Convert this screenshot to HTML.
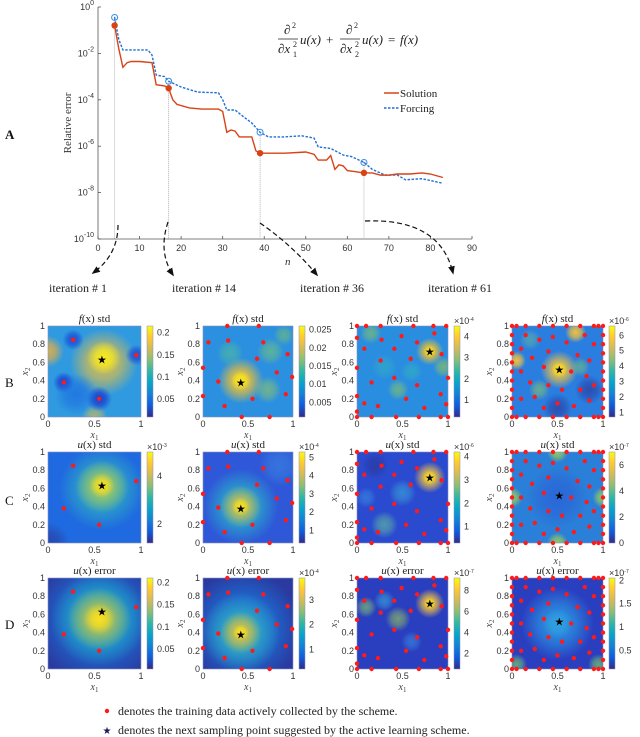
<!DOCTYPE html>
<html><head><meta charset="utf-8"><style>
html,body{margin:0;padding:0;background:#fff;}
svg{display:block;font-family:"Liberation Serif",serif;}
.tk{font-family:"Liberation Sans",sans-serif;font-size:9px;fill:#333;}
</style></head><body>
<svg id="fig" width="640" height="737" viewBox="0 0 640 737" xmlns="http://www.w3.org/2000/svg">
<defs id="defs"></defs>
</svg>
<script>
// ---------- top chart data ----------
const solN=[4,5,6,7,8,10,13,14,16,17,18,19,22,25,29,30,31,32,33,34,37,38,39,42,45,48,50,52,53,55,56,57,58,59,60,62,64,66,68,70,72,75,78,80,83];
const solLog=[-0.8,-1.8,-2.6,-2.4,-2.35,-2.35,-2.4,-3.35,-3.4,-3.5,-4.0,-4.2,-4.35,-4.4,-4.4,-4.5,-5.4,-5.3,-5.35,-5.6,-5.6,-6.2,-6.3,-6.3,-6.3,-6.27,-6.25,-6.35,-6.6,-6.6,-6.4,-7.0,-6.8,-6.85,-7.05,-7.1,-7.15,-7.15,-7.25,-7.25,-7.2,-7.2,-7.15,-7.2,-7.35];
const forN=[4,5,6,8,12,13,14,16,17,20,24,29,30,31,33,35,37,39,41,45,49,52,53,56,59,61,64,66,69,72,74,78,83];
const forLog=[-0.45,-1.4,-1.85,-1.85,-1.85,-2.07,-2.93,-3.0,-3.2,-3.45,-3.67,-3.7,-4.0,-4.44,-4.44,-4.73,-5.0,-5.4,-5.6,-5.6,-5.55,-5.65,-6.03,-6.1,-6.38,-6.45,-6.7,-7.0,-7.24,-7.24,-7.45,-7.4,-7.6];
const markN=[4,17,39,64];
const xTicks=[0,10,20,30,40,50,60,70,80,90];
const yTicks=[0,-2,-4,-6,-8,-10];

const NS="http://www.w3.org/2000/svg";
const svg=document.getElementById('fig');
const defs=document.getElementById('defs');
function el(tag,attrs,parent,text){const e=document.createElementNS(NS,tag);for(const k in attrs)e.setAttribute(k,attrs[k]);if(text!==undefined)e.textContent=text;(parent||svg).appendChild(e);return e;}

const X0=98,X1=472,Y0=7,Y1=239;
const xs=n=>X0+n*(X1-X0)/90;
const ys=l=>Y0+(-l)*(Y1-Y0)/10;

const chartG=el('g',{});


let a=el('line',{x1:X0,y1:Y0,x2:X0,y2:Y1,stroke:'#555','stroke-width':0.8},chartG);

a=el('line',{x1:X0,y1:Y1,x2:X1,y2:Y1,stroke:'#555','stroke-width':0.8},chartG);

xTicks.forEach(t=>{
  el('line',{x1:xs(t),y1:Y1,x2:xs(t),y2:Y1-3,stroke:'#555','stroke-width':0.8},chartG);
  const tx=el('text',{x:xs(t),y:Y1+12,'text-anchor':'middle',class:'tk','font-size':10},chartG,String(t));
  
});
yTicks.forEach(t=>{
  el('line',{x1:X0,y1:ys(t),x2:X0+3,y2:ys(t),stroke:'#555','stroke-width':0.8},chartG);
  const tx=el('text',{x:X0-4,y:ys(t)+3,'text-anchor':'end',class:'tk','font-size':10},chartG,'10');
  el('tspan',{dy:-5,'font-size':7},tx,String(t));
  
});
a=el('text',{x:0,y:0,transform:'translate(71,123) rotate(-90)','text-anchor':'middle','font-size':11,fill:'#333'},chartG,'Relative error');

a=el('text',{x:285,y:265,'font-size':11,'font-style':'italic',fill:'#333'},chartG,'n');

markN.forEach(n=>{
  const i=forN.indexOf(n);
  const g=el('line',{x1:xs(n),y1:ys(forLog[i]),x2:xs(n),y2:Y1,stroke:'#999','stroke-width':0.7,'stroke-dasharray':'1,1'},chartG);
  
});
const solPath=solN.map((n,i)=>(i?'L':'M')+xs(n).toFixed(1)+','+ys(solLog[i]).toFixed(1)).join(' ');
const forPath=forN.map((n,i)=>(i?'L':'M')+xs(n).toFixed(1)+','+ys(forLog[i]).toFixed(1)).join(' ');
a=el('path',{d:forPath,fill:'none',stroke:'#1f6fd6','stroke-width':1.4,'stroke-dasharray':'2.5,1.5'},chartG);

a=el('path',{d:solPath,fill:'none',stroke:'#d84315','stroke-width':1.4},chartG);

markN.forEach(n=>{
  const i=forN.indexOf(n),j=solN.indexOf(n);
  const c=el('circle',{cx:xs(n),cy:ys(forLog[i]),r:3,fill:'none',stroke:'#3a8ae0','stroke-width':1},chartG);
  
  el('circle',{cx:xs(n),cy:ys(forLog[i]),r:0.8,fill:'#3a8ae0'},chartG);
  const d=el('circle',{cx:xs(n),cy:ys(solLog[j]),r:3.2,fill:'#d84315'},chartG);
  
});
const lg=el('g',{},chartG);
el('line',{x1:384,y1:93,x2:399,y2:93,stroke:'#d84315','stroke-width':1.5},lg);
a=el('text',{x:400,y:97,'font-size':11,fill:'#222'},lg,'Solution');
el('line',{x1:384,y1:108,x2:399,y2:108,stroke:'#1f6fd6','stroke-width':1.5,'stroke-dasharray':'2.5,1.5'},lg);
a=el('text',{x:400,y:112,'font-size':11,fill:'#222'},lg,'Forcing');
const eq=el('g',{'font-size':13,fill:'#222'},chartG);
el('text',{x:284,y:34},eq,'∂');el('text',{x:292,y:28,'font-size':8},eq,'2');
el('line',{x1:278,y1:39,x2:298,y2:39,stroke:'#222','stroke-width':0.8},eq);
el('text',{x:278,y:53,'font-style':'italic'},eq,'∂x');el('text',{x:293,y:47,'font-size':8},eq,'2');el('text',{x:293,y:57,'font-size':8},eq,'1');
el('text',{x:300,y:44,'font-style':'italic'},eq,'u(x)');
el('text',{x:326,y:44},eq,'+');
el('text',{x:346,y:34},eq,'∂');el('text',{x:354,y:28,'font-size':8},eq,'2');
el('line',{x1:340,y1:39,x2:360,y2:39,stroke:'#222','stroke-width':0.8},eq);
el('text',{x:340,y:53,'font-style':'italic'},eq,'∂x');el('text',{x:355,y:47,'font-size':8},eq,'2');el('text',{x:355,y:57,'font-size':8},eq,'2');
el('text',{x:362,y:44,'font-style':'italic'},eq,'u(x)');
el('text',{x:388,y:44},eq,'=');
el('text',{x:400,y:44,'font-style':'italic'},eq,'f(x)');
const mk=el('marker',{id:'ah',viewBox:'0 0 10 10',refX:8,refY:5,markerWidth:7,markerHeight:7,orient:'auto'},defs);
el('path',{d:'M0,1 L10,5 L0,9 z',fill:'#111'},mk);
['M118,225 Q118,255 93,273','M168,222 Q158,252 173,275','M260,223 Q292,245 317,275','M365,221 Q440,218 453,273'].forEach(d=>{
  const p=el('path',{d:d,fill:'none',stroke:'#111','stroke-width':1.2,'stroke-dasharray':'5,3','marker-end':'url(#ah)'});
  
});
[['iteration # 1',78],['iteration # 14',204],['iteration # 36',332],['iteration # 61',460]].forEach(t=>{
  const e=el('text',{x:t[1],y:292,'text-anchor':'middle','font-size':12,fill:'#222'},svg,t[0]);
  
});
[['A',5,139],['B',5,387],['C',5,505],['D',5,629]].forEach(t=>{
  const e=el('text',{x:t[1],y:t[2],'font-size':13,'font-weight':t[0]=='A'?'bold':'normal',fill:'#111'},svg,t[0]);
  
});

// ---------- heatmaps ----------
const col1Dots=[[.27,.85],[.95,.68],[.17,.38],[.55,.2]];
const col2Dots=[[.27,1],[.62,1],[.06,.82],[.28,.84],[.67,.82],[.6,.64],[.94,.69],[.82,.49],[.99,.44],[0,.54],[.17,.39],[0,.23],[.92,.25],[.55,.2],[.24,.12],[.43,0],[.74,0]];
const col3Dots=[[0,1],[.1,1],[.26,1],[.62,1],[.84,1],[.98,1],[0,.87],[.49,.89],[.27,.85],[.66,.82],[.85,.92],[.08,.75],[.41,.75],[.93,.69],[.26,.62],[.59,.64],[0,.54],[1,.43],[.16,.38],[.41,.43],[.66,.35],[.92,.25],[0,.23],[.08,.15],[.23,.12],[.54,.2],[.74,.1],[.98,.14],[0,.06],[0,0],[.16,0],[.43,0],[.68,0],[.92,0],[1,0]];
const col4Dots=[[0,1],[.05,1],[.15,1],[.3,1],[.45,1],[.6,1],[.75,1],[.9,1],[.95,1],[1,1],[0,0],[.05,0],[.15,0],[.3,0],[.45,0],[.6,0],[.75,0],[.9,0],[.95,0],[1,0],
[0,.1],[0,.2],[0,.3],[0,.4],[0,.5],[0,.6],[0,.7],[0,.8],[0,.9],[1,.1],[1,.2],[1,.3],[1,.4],[1,.5],[1,.6],[1,.7],[1,.8],[1,.9],
[.15,.9],[.3,.85],[.45,.88],[.6,.82],[.8,.9],[.9,.8],[.1,.75],[.22,.65],[.4,.72],[.72,.68],[.85,.62],[.1,.5],[.35,.55],[.65,.5],[.82,.45],[.9,.35],[.2,.38],[.4,.35],[.55,.3],[.75,.3],[.1,.2],[.25,.22],[.5,.15],[.68,.12],[.85,.18],[.35,.1]];
const stars=[[.58,.63],[.42,.38],[.8,.72],[.52,.52]];
const colX=[48,203,357,512],colW=[93,90,91,91];
const rowY=[326,452,578],rowH=91;
const titles=[['f','(x) std'],['u','(x) std'],['u','(x) error']];
const cbMin=[[.01,.001,.2,.7],[1.2,.3,.3,0],[.005,.2,.5,.1]];
const cbMax=[[.215,.026,4.5,6.6],[5,5.3,4.2,7],[.21,3.9,9.2,2.05]];
const cbTicks=[[[.05,.1,.15,.2],[.005,.01,.015,.02,.025],[1,2,3,4],[1,2,3,4,5,6]],[[2,4],[1,2,3,4,5],[1,2,3,4],[0,2,4,6]],[[.05,.1,.15,.2],[1,2,3],[2,4,6,8],[.5,1,1.5,2]]];
const cbExp=[[null,null,'-4','-6'],['-3','-4','-6','-7'],[null,'-4','-7','-7']];
const dotsByCol=[col1Dots,col2Dots,col3Dots,col4Dots];
const fields=[
 [['#2f9ae0',[[.6,.6,.32,'#e8c040',.9],[.6,.65,.16,'#f8ec20',1],[.0,.72,.15,'#e8b040',.9],[.5,.0,.12,'#d8c050',.7],[.17,.38,.1,'#1a3fd0',1],[.55,.2,.12,'#1a3fd0',1],[.27,.85,.1,'#1a50d8',1],[.95,.68,.1,'#1a50d8',1],[.3,.25,.2,'#1e70e0',.8]]],
  ['#2b90e0',[[.42,.4,.22,'#f0c030',1],[.42,.4,.1,'#fae820',1],[.72,.3,.13,'#8ac070',.7],[.75,.72,.13,'#70c080',.7],[.3,.7,.13,'#50b8a0',.7],[.9,.9,.1,'#7ac070',.6]]],
  ['#2a8ee0',[[.8,.72,.13,'#f0c030',1],[.8,.72,.06,'#fae020',1],[.15,.92,.1,'#80c070',.7],[.45,.3,.1,'#80c070',.7],[.95,.55,.1,'#90c060',.7],[.6,.5,.1,'#30b0c0',.7],[.3,.55,.12,'#30b0c0',.6]]],
  ['#2a7ee0',[[.52,.52,.18,'#f0c040',1],[.52,.52,.08,'#fae020',1],[.05,.62,.09,'#f0c040',1],[.7,.93,.1,'#f0c040',1],[.3,.3,.1,'#80c070',.7],[.75,.55,.09,'#80c070',.6],[.2,.85,.1,'#60b8a0',.6],[.85,.3,.14,'#2a3aa0',.7],[.5,.1,.14,'#2a3aa0',.7]]]],
 [['#1f6ae0',[[.58,.6,.4,'#30b0c0',1],[.58,.62,.25,'#a0c860',1],[.58,.63,.12,'#fae020',1],[.0,.0,.2,'#2a3a9a',.7]]],
  ['#2e58d8',[[.42,.4,.36,'#2ab0c8',1],[.42,.4,.2,'#c8c050',1],[.42,.4,.09,'#fae020',1],[.85,.85,.2,'#3a80e0',.7]]],
  ['#2a4ad0',[[.8,.72,.15,'#f0c040',1],[.8,.72,.07,'#fae020',1],[.3,.2,.13,'#60b8a0',.7],[.5,.55,.13,'#3aa0d8',.7],[.1,.5,.1,'#3a90e0',.6],[.2,.85,.13,'#2a3aa0',.8]]],
  ['#2a80d8',[[.0,.5,.1,'#90c860',1],[1,.5,.1,'#90c860',1],[.5,0,.1,'#90c860',1],[.5,1,.1,'#90c860',1],[.5,.5,.3,'#2a60d8',.8]]]],
 [['#2a3aa0',[[.55,.55,.62,'#1a7ae0',1],[.55,.55,.45,'#20b0c0',1],[.55,.55,.3,'#b8c050',1],[.55,.55,.15,'#fae020',1]]],
  ['#2a3aa0',[[.45,.45,.55,'#1a7ae0',1],[.42,.4,.38,'#30b0c0',1],[.42,.4,.2,'#d8c040',1],[.42,.4,.08,'#fae020',1]]],
  ['#2a3ec0',[[.8,.72,.14,'#f0c040',1],[.8,.72,.06,'#fae020',1],[.1,.68,.1,'#80c070',.7],[.45,.55,.12,'#90c060',.7],[.3,.75,.1,'#3aa0d8',.7],[.6,.3,.1,'#3a90e0',.6]]],
  ['#2a3ec0',[[.5,.5,.35,'#2a90e0',1],[.5,.5,.15,'#30a0e0',1],[.05,.05,.1,'#70c070',.8],[.95,.05,.1,'#70c070',.8]]]]
];
let gid=0;
function blob(g,px,py,pw,ph,b){
  const id='g'+(gid++);
  const rg=el('radialGradient',{id:id},defs);
  el('stop',{offset:'0','stop-color':b[3],'stop-opacity':b[4]},rg);
  el('stop',{offset:'0.5','stop-color':b[3],'stop-opacity':b[4]*0.7},rg);
  el('stop',{offset:'1','stop-color':b[3],'stop-opacity':0},rg);
  el('ellipse',{cx:px+b[0]*pw,cy:py+(1-b[1])*ph,rx:b[2]*pw*1.15,ry:b[2]*ph*1.15,fill:'url(#'+id+')'},g);
}
const parula=['#352a87','#0f5cdd','#1481d6','#06a4ca','#2eb7a4','#87bf77','#d1bb59','#fec832','#f9fb0e'];
const cbg=el('linearGradient',{id:'parula',x1:0,y1:1,x2:0,y2:0},defs);
parula.forEach((c,i)=>el('stop',{offset:i/(parula.length-1),'stop-color':c},cbg));

for(let r=0;r<3;r++)for(let c=0;c<4;c++){
  const px=colX[c],py=rowY[r],pw=colW[c],ph=rowH;
  const g=el('g',{});
  
  
  const cid='clip'+r+c;
  const cp=el('clipPath',{id:cid},defs);el('rect',{x:px,y:py,width:pw,height:ph},cp);
  const inner=el('g',{'clip-path':'url(#'+cid+')'},g);
  const f=fields[r][c];
  el('rect',{x:px,y:py,width:pw,height:ph,fill:f[0]},inner);
  f[1].forEach(b=>blob(inner,px,py,pw,ph,b));
  el('rect',{x:px,y:py,width:pw,height:ph,fill:'none',stroke:'#8a8fc0','stroke-width':0.6},g);
  const t=el('text',{x:px+pw/2,y:py-4,'text-anchor':'middle','font-size':11,fill:'#222'},g);
  el('tspan',{'font-style':'italic'},t,titles[r][0]);el('tspan',{},t,titles[r][1]);
  
  [0,.2,.4,.6,.8,1].forEach(v=>el('text',{x:px-3,y:py+(1-v)*ph+3,'text-anchor':'end',class:'tk'},g,String(v)));
  [0,.5,1].forEach(v=>el('text',{x:px+v*pw,y:py+ph+10,'text-anchor':'middle',class:'tk'},g,String(v)));
  const xl=el('text',{x:px+pw/2,y:py+ph+21,'text-anchor':'middle','font-size':10,'font-style':'italic',fill:'#444'},g,'x');
  el('tspan',{'font-size':7,dy:2,'font-style':'normal'},xl,'1');
  const yl=el('text',{x:0,y:0,transform:'translate('+(px-20)+','+(py+ph/2)+') rotate(-90)','text-anchor':'middle','font-size':10,'font-style':'italic',fill:'#444'},g,'x');
  el('tspan',{'font-size':7,dy:2,'font-style':'normal'},yl,'2');
  dotsByCol[c].forEach(d=>{
    const dt=el('circle',{cx:px+d[0]*pw,cy:py+(1-d[1])*ph,r:2.2,fill:'#ff1a1a'},g);
    
  });
  const s=stars[c];
  const st=el('text',{x:px+s[0]*pw,y:py+(1-s[1])*ph+4,'text-anchor':'middle','font-size':11,fill:'#000','font-family':'DejaVu Sans'},g,'★');
  
  const cbx=px+pw+6;
  const cb=el('rect',{x:cbx,y:py,width:6,height:ph,fill:'url(#parula)',stroke:'#8a8fc0','stroke-width':0.5},g);
  
  const mn=cbMin[r][c],mx=cbMax[r][c];
  cbTicks[r][c].forEach(v=>{
    const yy=py+ph-(v-mn)/(mx-mn)*ph;
    el('text',{x:cbx+10,y:yy+3,class:'tk'},g,String(v));
  });
  if(cbExp[r][c]){const ex=el('text',{x:cbx,y:py-2,class:'tk','font-size':7},g,'×10');el('tspan',{dy:-3,'font-size':5},ex,cbExp[r][c]);}
}
const bl=el('g',{});
el('circle',{cx:107,cy:711,r:2.2,fill:'#ff1a1a'},bl);
a=el('text',{x:118,y:715,'font-size':12,fill:'#222'},bl,'denotes the training data actively collected by the scheme.');

el('text',{x:107,y:734,'text-anchor':'middle','font-size':10,fill:'#1a1a5a','font-family':'DejaVu Sans'},bl,'★');
a=el('text',{x:118,y:734,'font-size':12,fill:'#222'},bl,'denotes the next sampling point suggested by the active learning scheme.');

</script>
</body></html>
